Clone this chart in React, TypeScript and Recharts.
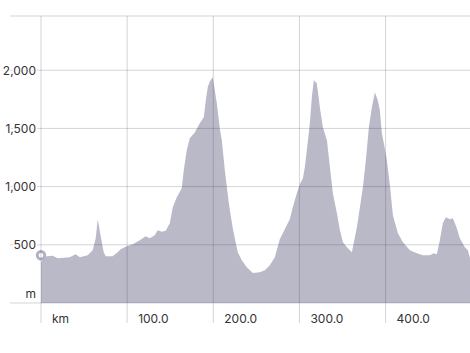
import { AreaChart, Area, XAxis, YAxis, ReferenceDot } from 'recharts'

// distance along the route (km) and elevation (m)
const distanceKm = [
  0, 3.1, 6.6, 13.6, 19.4, 26.4, 33.3, 40.3, 45, 54.2,
  60, 63.5, 65.9, 69.3, 72.8, 75.1, 83.2, 89, 92.5, 99.5,
  106.5, 114.6, 121.6, 126.2, 132, 135.5, 140.2, 144.8, 149.5, 153,
  157.6, 163.4, 165.7, 169.2, 172.7, 178.5, 184.3, 189, 191.3, 193.6,
  195.9, 199.4, 204.1, 207.5, 209.9, 213.4, 218, 222.6, 228.4, 233.1,
  238.9, 245.9, 254, 259.8, 265.6, 271.4, 277.2, 283, 288.8, 292.3,
  297, 300.5, 304, 306.3, 308.6, 312.1, 314.4, 316.7, 320.2, 323.7,
  327.2, 331.9, 335.4, 338.8, 343.5, 347, 350.5, 355.1, 360.9, 363.2,
  366.7, 370.2, 373.7, 377.1, 380.6, 384.1, 387.6, 391, 393.4, 395.7,
  398, 401.5, 405, 408.5, 414.3, 420.1, 428.2, 436.3, 443.3, 451.4,
  456.1, 459.5, 463, 466.5, 470, 474.6, 478.1, 482.7, 486.2, 492,
  495.5, 498,
]

const elevationM = [
  350, 384, 401, 405, 384, 388, 393, 418, 393, 410,
  453, 556, 719, 573, 436, 401, 401, 436, 461, 487,
  504, 539, 573, 556, 582, 625, 612, 620, 685, 822,
  908, 985, 1140, 1312, 1415, 1466, 1544, 1595, 1741, 1853,
  1904, 1939, 1716, 1501, 1398, 1140, 857, 642, 436, 367,
  307, 258, 264, 281, 324, 393, 547, 633, 719, 822,
  942, 1020, 1071, 1166, 1312, 1544, 1767, 1913, 1887, 1681,
  1510, 1398, 1166, 942, 771, 625, 521, 478, 436, 521,
  650, 822, 994, 1226, 1510, 1681, 1810, 1741, 1655, 1458,
  1372, 1226, 1011, 753, 599, 521, 453, 427, 410, 410,
  427, 418, 539, 685, 736, 719, 728, 642, 556, 478,
  453, 384,
]

const xTicks = [0, 100, 200, 300, 400]
const yTicks = [0, 500, 1000, 1500, 2000, 2466]
const yMax = 2466
const xMax = 498

// current position marker
const markerKm = 0
const markerM = 410

const data = distanceKm.map((km, i) => ({ km, elevation: elevationM[i] }))

const gridColor = 'rgba(40, 40, 70, 0.2)'
const font = 'Inter, "Liberation Sans", sans-serif'

function XTick(props: any) {
  const { x, payload } = props
  const v = payload.value
  return (
    <g>
      <line x1={x} x2={x} y1={16} y2={323} stroke={gridColor} />
      <text x={x + 11} y={318} fontSize={12} fill="#333" fontFamily={font} dominantBaseline="central">
        {v === 0 ? 'km' : v.toFixed(1)}
      </text>
    </g>
  )
}

function YTick(props: any) {
  const { y, payload } = props
  const v = payload.value
  let label = v.toLocaleString('en-US')
  let dy = 0
  if (v === 0) {
    label = 'm'
    dy = -10
  }
  if (v === yMax) label = ''
  return (
    <g>
      <line x1={10} x2={470} y1={y} y2={y} stroke={gridColor} />
      {label && (
        <text
          x={36}
          y={y + dy}
          textAnchor="end"
          fontSize={12}
          fill="#333"
          fontFamily={font}
          dominantBaseline="central"
          stroke="#fff"
          strokeWidth={3}
          paintOrder="stroke"
        >
          {label}
        </text>
      )}
    </g>
  )
}

export default function App() {
  return (
    <div style={{ position: 'absolute', left: 0, top: 0, width: 470, height: 353, background: '#fff' }}>
      <AreaChart width={470} height={353} data={data} margin={{ top: 16, right: 0, bottom: 0, left: 0 }}>
        <Area
          type="linear"
          dataKey="elevation"
          stroke="none"
          fill="#b9b9c8"
          fillOpacity={1}
          isAnimationActive={false}
          dot={false}
          activeDot={false}
        />
        <XAxis
          dataKey="km"
          type="number"
          domain={[0, xMax]}
          ticks={xTicks}
          height={50}
          axisLine={false}
          tickLine={false}
          tick={<XTick />}
          interval={0}
          allowDataOverflow
        />
        <YAxis
          type="number"
          domain={[0, yMax]}
          ticks={yTicks}
          width={41}
          axisLine={false}
          tickLine={false}
          tick={<YTick />}
          interval={0}
          allowDataOverflow
        />
        <ReferenceDot
          x={markerKm}
          y={markerM}
          r={3.8}
          fill="#fff"
          stroke="#b0b0c0"
          strokeWidth={2.8}
          ifOverflow="visible"
        />
      </AreaChart>
    </div>
  )
}
